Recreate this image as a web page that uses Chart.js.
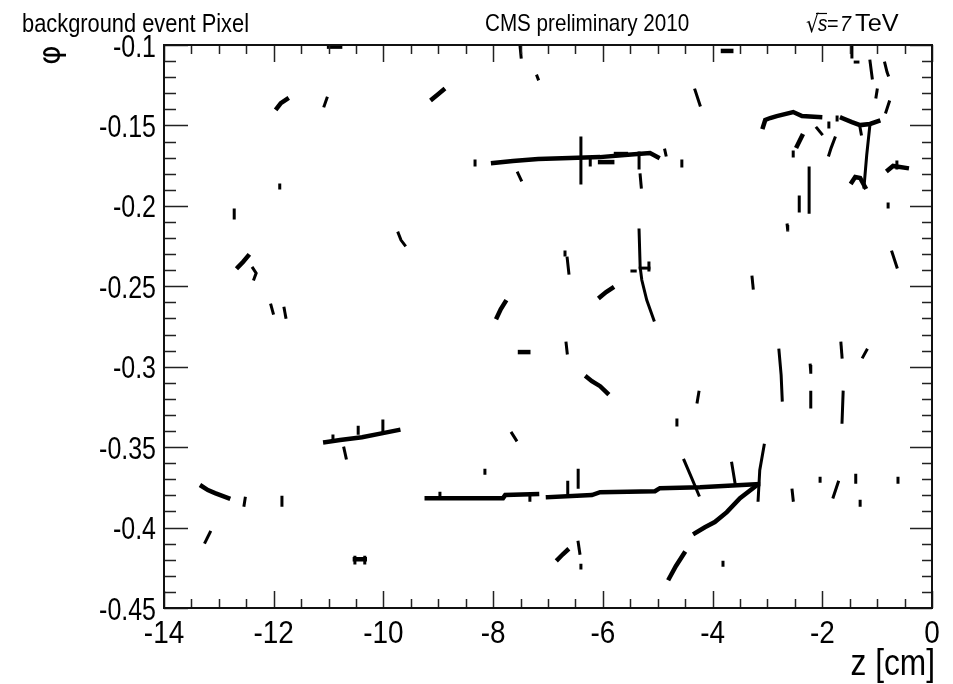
<!DOCTYPE html>
<html>
<head>
<meta charset="utf-8">
<script src="https://cdn.jsdelivr.net/npm/chart.js@4.4.0/dist/chart.umd.min.js"></script>
<style>
  html, body { margin: 0; padding: 0; background: #fff; }
  canvas { display: block; }
</style>
</head>
<body>
<canvas id="hits" width="953" height="684"></canvas>
<script>
// axis labels
const xTickLabels = [-14, -12, -10, -8, -6, -4, -2, 0];
const yTickLabels = [-0.1, -0.15, -0.2, -0.25, -0.3, -0.35, -0.4, -0.45];

// pixel hits, as [z, phi] polylines
// long / dense tracks
const thickTracks = [
  [[-10.99, -0.1010], [-10.79, -0.1010]],
  [[-8.00, -0.1734], [-7.64, -0.1721], [-7.18, -0.1709], [-6.60, -0.1703], [-6.05, -0.1697], [-5.60, -0.1684], [-5.14, -0.1672], [-5.00, -0.1697]],
  [[-6.05, -0.1728], [-5.83, -0.1728]],
  [[-5.76, -0.1678], [-5.58, -0.1678]],
  [[-3.81, -0.1037], [-3.66, -0.1037]],
  [[-3.08, -0.1510], [-3.04, -0.1466], [-2.95, -0.1454], [-2.83, -0.1442], [-2.53, -0.1417], [-2.37, -0.1442], [-2.04, -0.1448]],
  [[-1.64, -0.1454], [-1.46, -0.1479], [-1.31, -0.1498], [-1.13, -0.1491], [-0.98, -0.1473]],
  [[-7.51, -0.2909], [-7.36, -0.2909]],
  [[-11.06, -0.3469], [-10.79, -0.3456], [-10.39, -0.3438], [-10.01, -0.3413], [-9.73, -0.3394]],
  [[-13.31, -0.3743], [-13.20, -0.3767], [-13.07, -0.3786], [-12.83, -0.3817]],
  [[-9.21, -0.3817], [-7.82, -0.3817], [-7.78, -0.3798], [-7.20, -0.3792]],
  [[-7.00, -0.3811], [-6.20, -0.3798], [-6.05, -0.3780], [-5.05, -0.3774], [-4.96, -0.3755], [-4.23, -0.3749], [-3.17, -0.3730]],
  [[-4.32, -0.4035], [-4.14, -0.3998], [-3.96, -0.3966], [-3.74, -0.3904], [-3.50, -0.3817], [-3.19, -0.3736]],
  [[-6.29, -0.3065], [-6.20, -0.3090], [-6.05, -0.3121], [-5.92, -0.3164]],
  [[-10.52, -0.4197], [-10.34, -0.4197]],
  [[-9.11, -0.1336], [-9.02, -0.1311], [-8.91, -0.1280]],
  [[-11.94, -0.1392], [-11.87, -0.1361], [-11.76, -0.1336]],
  [[-12.65, -0.2381], [-12.56, -0.2349], [-12.47, -0.2312]],
  [[-6.05, -0.2567], [-5.94, -0.2536], [-5.83, -0.2511]],
  [[-6.82, -0.4197], [-6.73, -0.4166], [-6.65, -0.4141]],
  [[-4.79, -0.4315], [-4.67, -0.4240], [-4.52, -0.4160]],
  [[-7.93, -0.2692], [-7.86, -0.2642], [-7.78, -0.2598]],
  [[-1.46, -0.1852], [-1.40, -0.1821], [-1.31, -0.1827], [-1.22, -0.1883]],
  [[-0.80, -0.1777], [-0.71, -0.1752], [-0.46, -0.1765]],
  [[-2.37, -0.1566], [-2.46, -0.1628]]
];

// short stubs and single hits
const thinTracks = [
  [[-7.51, -0.1006], [-7.49, -0.1075]],
  [[-7.20, -0.1193], [-7.18, -0.1211]],
  [[-11.08, -0.1379], [-11.03, -0.1330]],
  [[-8.33, -0.1721], [-8.33, -0.1746]],
  [[-7.55, -0.1796], [-7.49, -0.1840]],
  [[-6.40, -0.1578], [-6.40, -0.1858]],
  [[-5.34, -0.1672], [-5.34, -0.1765]],
  [[-5.32, -0.1808], [-5.30, -0.1883]],
  [[-6.23, -0.1715], [-6.23, -0.1746]],
  [[-4.87, -0.1653], [-4.85, -0.1684]],
  [[-4.56, -0.1721], [-4.56, -0.1752]],
  [[-11.89, -0.1871], [-11.89, -0.1889]],
  [[-12.72, -0.2026], [-12.72, -0.2076]],
  [[-9.73, -0.2169], [-9.68, -0.2213], [-9.61, -0.2244]],
  [[-12.38, -0.2387], [-12.32, -0.2418], [-12.36, -0.2455]],
  [[-12.05, -0.2617], [-12.01, -0.2667]],
  [[-11.81, -0.2636], [-11.78, -0.2692]],
  [[-1.46, -0.1000], [-1.46, -0.1075]],
  [[-1.40, -0.1106], [-1.35, -0.1106]],
  [[-1.13, -0.1100], [-1.09, -0.1205]],
  [[-0.86, -0.1112], [-0.82, -0.1168], [-0.80, -0.1187]],
  [[-4.32, -0.1280], [-4.23, -0.1373]],
  [[-1.00, -0.1280], [-1.02, -0.1323]],
  [[-0.78, -0.1354], [-0.84, -0.1417]],
  [[-2.10, -0.1516], [-2.01, -0.1553]],
  [[-1.88, -0.1485], [-1.88, -0.1510]],
  [[-1.73, -0.1448], [-1.73, -0.1466]],
  [[-1.31, -0.1516], [-1.29, -0.1553]],
  [[-1.13, -0.1491], [-1.19, -0.1684], [-1.24, -0.1883]],
  [[-2.53, -0.1665], [-2.53, -0.1690]],
  [[-1.77, -0.1578], [-1.84, -0.1641], [-1.88, -0.1684]],
  [[-0.64, -0.1728], [-0.64, -0.1765]],
  [[-0.80, -0.1989], [-0.80, -0.2007]],
  [[-2.24, -0.1765], [-2.24, -0.2039]],
  [[-2.42, -0.1945], [-2.42, -0.2032]],
  [[-2.64, -0.2119], [-2.63, -0.2150]],
  [[-0.73, -0.2287], [-0.64, -0.2381]],
  [[-3.28, -0.2443], [-3.26, -0.2511]],
  [[-6.69, -0.2287], [-6.69, -0.2306]],
  [[-6.65, -0.2325], [-6.62, -0.2418]],
  [[-5.34, -0.2150], [-5.32, -0.2381], [-5.29, -0.2461], [-5.20, -0.2586], [-5.07, -0.2710]],
  [[-5.32, -0.2387], [-5.16, -0.2387]],
  [[-5.16, -0.2356], [-5.16, -0.2399]],
  [[-5.47, -0.2405], [-5.41, -0.2405]],
  [[-10.46, -0.3376], [-10.46, -0.3413]],
  [[-10.01, -0.3338], [-10.01, -0.3413]],
  [[-10.92, -0.3431], [-10.92, -0.3456]],
  [[-10.72, -0.3506], [-10.68, -0.3568]],
  [[-7.66, -0.3413], [-7.58, -0.3456]],
  [[-8.15, -0.3643], [-8.15, -0.3662]],
  [[-12.52, -0.3817], [-12.54, -0.3861]],
  [[-11.85, -0.3811], [-11.85, -0.3861]],
  [[-13.16, -0.4029], [-13.25, -0.4091]],
  [[-8.97, -0.3786], [-8.97, -0.3811]],
  [[-7.33, -0.3798], [-7.33, -0.3830]],
  [[-6.64, -0.3718], [-6.64, -0.3786]],
  [[-6.45, -0.3643], [-6.45, -0.3749]],
  [[-4.52, -0.3581], [-4.38, -0.3693], [-4.25, -0.3798]],
  [[-3.65, -0.3600], [-3.59, -0.3724]],
  [[-3.06, -0.3488], [-3.14, -0.3643], [-3.17, -0.3830]],
  [[-6.67, -0.2853], [-6.65, -0.2915]],
  [[-4.25, -0.3158], [-4.28, -0.3220]],
  [[-4.65, -0.3332], [-4.65, -0.3363]],
  [[-2.79, -0.2897], [-2.75, -0.3052], [-2.73, -0.3208]],
  [[-2.22, -0.2990], [-2.21, -0.3034]],
  [[-2.21, -0.3158], [-2.21, -0.3251]],
  [[-1.66, -0.2853], [-1.64, -0.2940]],
  [[-1.62, -0.3158], [-1.64, -0.3345]],
  [[-1.19, -0.2897], [-1.26, -0.2940]],
  [[-2.04, -0.3693], [-2.04, -0.3712]],
  [[-1.71, -0.3718], [-1.80, -0.3811]],
  [[-1.39, -0.3674], [-1.39, -0.3718]],
  [[-1.31, -0.3836], [-1.31, -0.3861]],
  [[-0.62, -0.3693], [-0.62, -0.3718]],
  [[-2.55, -0.3767], [-2.53, -0.3830]],
  [[-6.45, -0.4091], [-6.42, -0.4160]],
  [[-6.40, -0.4234], [-6.40, -0.4252]],
  [[-3.81, -0.4215], [-3.81, -0.4234]],
  [[-10.52, -0.4184], [-10.52, -0.4221]],
  [[-10.34, -0.4184], [-10.34, -0.4221]]
];

const SANS = '"Liberation Sans", Arial, Helvetica, sans-serif';

function toDataset(pts, width) {
  return {
    data: pts.map(([x, y]) => ({ x, y })),
    showLine: true,
    fill: false,
    borderColor: '#000',
    backgroundColor: '#000',
    borderWidth: width,
    borderCapStyle: 'square',
    borderJoinStyle: 'miter',
    pointRadius: 0,
    pointHoverRadius: 0
  };
}

// squeezed text, the picture's fonts are condensed
function drawText(ctx, s, x, y, size, sx, align, style, family) {
  ctx.save();
  ctx.translate(x, y);
  ctx.scale(sx, 1);
  ctx.font = (style ? style + ' ' : '') + size + 'px ' + (family || SANS);
  ctx.textAlign = align || 'left';
  ctx.textBaseline = 'alphabetic';
  ctx.fillStyle = '#000';
  ctx.fillText(s, 0, 0);
  ctx.restore();
}

const framePlugin = {
  id: 'rootFrame',
  afterDraw(chart) {
    const ctx = chart.ctx;
    const a = chart.chartArea;
    const xs = chart.scales.x, ys = chart.scales.y;

    ctx.save();
    // minor + major ticks, all four sides
    ctx.strokeStyle = '#222';
    ctx.lineWidth = 1.5;
    ctx.beginPath();
    for (let i = 0; i <= 28; i++) {
      const v = -14 + i * 0.5;
      const px = Math.round(xs.getPixelForValue(v)) + 0.5;
      const len = (i % 4 === 0) ? 17 : 9;
      ctx.moveTo(px, a.bottom); ctx.lineTo(px, a.bottom - len);
      ctx.moveTo(px, a.top); ctx.lineTo(px, a.top + len);
    }
    for (let i = 0; i <= 35; i++) {
      const v = -0.45 + i * 0.01;
      const py = Math.round(ys.getPixelForValue(v)) + 0.5;
      const lenL = (i % 5 === 0) ? 24 : 12;
      const lenR = (i % 5 === 0) ? 22 : 10;
      ctx.moveTo(a.left, py); ctx.lineTo(a.left + lenL, py);
      ctx.moveTo(a.right, py); ctx.lineTo(a.right - lenR, py);
    }
    ctx.stroke();

    // frame
    ctx.lineWidth = 2;
    ctx.strokeStyle = '#111';
    ctx.strokeRect(a.left, a.top, a.right - a.left, a.bottom - a.top);

    // tick labels
    xTickLabels.forEach(v => {
      drawText(ctx, String(v), xs.getPixelForValue(v), 643, 31, 0.9, 'center');
    });
    yTickLabels.forEach(v => {
      drawText(ctx, String(v), 156, ys.getPixelForValue(v) + 11.5, 32, 0.78, 'right');
    });

    // axis titles
    drawText(ctx, 'z [cm]', 935, 675, 36, 0.88, 'right');
    ctx.save();
    ctx.translate(50, 55);
    ctx.rotate(-Math.PI / 2);
    ctx.font = '30px "DejaVu Sans", sans-serif';
    ctx.textAlign = 'center';
    ctx.textBaseline = 'middle';
    ctx.fillStyle = '#000';
    ctx.fillText('\u03c6', 0, 2);
    ctx.restore();

    // header texts
    drawText(ctx, 'background event Pixel', 22, 32, 26, 0.84, 'left');
    drawText(ctx, 'CMS preliminary 2010', 485, 31, 24, 0.86, 'left');
    drawText(ctx, '\u221a', 806, 32, 24, 0.85, 'left', '', '"DejaVu Sans", sans-serif');
    drawText(ctx, 's', 818, 31, 22, 0.85, 'left', 'italic');
    drawText(ctx, '=', 827, 31, 22, 0.9, 'left');
    drawText(ctx, '7', 840, 31, 22, 0.9, 'left', 'italic');
    drawText(ctx, 'TeV', 855, 31, 23, 1.1, 'left');
    ctx.strokeStyle = '#000';
    ctx.lineWidth = 1.2;
    ctx.beginPath();
    ctx.moveTo(816, 13.5); ctx.lineTo(827, 13.5);
    ctx.stroke();
    ctx.restore();
  }
};

const datasets = [
  ...thickTracks.map(t => toDataset(t, 4.5)),
  ...thinTracks.map(t => toDataset(t, 3))
];

new Chart(document.getElementById('hits'), {
  type: 'scatter',
  data: { datasets },
  options: {
    responsive: false,
    animation: false,
    devicePixelRatio: 1,
    events: [],
    layout: { padding: { left: 164, right: 21, top: 45, bottom: 76 } },
    plugins: { legend: { display: false }, tooltip: { enabled: false } },
    elements: { line: { tension: 0 } },
    scales: {
      x: { type: 'linear', min: -14, max: 0, display: false },
      y: { type: 'linear', min: -0.45, max: -0.1, display: false }
    }
  },
  plugins: [framePlugin]
});
</script>
</body>
</html>
